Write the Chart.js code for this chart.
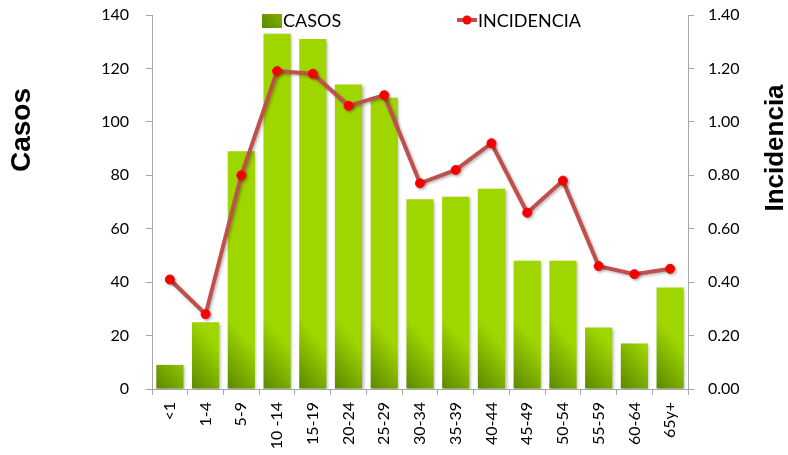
<!DOCTYPE html>
<html>
<head>
<meta charset="utf-8">
<script src="https://cdn.jsdelivr.net/npm/chart.js@4"></script>
<style>
  html, body { margin: 0; padding: 0; background: #fff; }
  #wrap { width: 788px; height: 455px; position: relative; }
</style>
</head>
<body>
<div id="wrap"><canvas id="casosChart"></canvas></div>
<script>
const ageGroups = ['<1', '1-4', '5-9', '10 -14', '15-19', '20-24', '25-29', '30-34', '35-39', '40-44', '45-49', '50-54', '55-59', '60-64', '65y+'];
const casos = [9, 25, 89, 133, 131, 114, 109, 71, 72, 75, 48, 48, 23, 17, 38];
const incidencia = [0.41, 0.28, 0.80, 1.19, 1.18, 1.06, 1.10, 0.77, 0.82, 0.92, 0.66, 0.78, 0.46, 0.43, 0.45];
const casosTicks = [0, 20, 40, 60, 80, 100, 120, 140];
const incidenciaTicks = [0, 0.2, 0.4, 0.6, 0.8, 1.0, 1.2, 1.4];

const tickFont = { family: 'Lato, "Open Sans", sans-serif', size: 16 };
const axisGrey = '#a6a6a6';
const lineColor = '#c0504d';
const dotColor = '#ff0000';

// diagonal green gradient, dark bottom-left to bright top-right
function greenGradient(ctx, x0, y0) {
    const d = 36;
    const g = ctx.createLinearGradient(x0, y0, x0 + d, y0 - d * 0.85);
    g.addColorStop(0, '#5a8800');
    g.addColorStop(1, '#a0d600');
    return g;
}

function barFill(context) {
    const chart = context.chart;
    if (!chart.chartArea || context.type !== 'data') return '#8cc000';
    const xs = chart.scales.x, ys = chart.scales.y;
    const cx = xs.getPixelForValue(context.dataIndex);
    const half = (xs.width / ageGroups.length) * 0.76 / 2;
    return greenGradient(chart.ctx, cx - half, ys.getPixelForValue(0));
}

// fixed sizes for the side axes, no extra label padding at the ends
function fixWidth(w) {
    return function (scale) {
        scale.width = w;
        scale.paddingTop = 0;
        scale.paddingBottom = 0;
    };
}

const extras = {
    id: 'extras',
    beforeDatasetDraw(chart) {
        const ctx = chart.ctx;
        ctx.save();
        ctx.shadowColor = 'rgba(0,0,0,0.28)';
        ctx.shadowBlur = 3;
        ctx.shadowOffsetX = 1.5;
        ctx.shadowOffsetY = 1.5;
    },
    afterDatasetDraw(chart) {
        chart.ctx.restore();
    },
    afterDraw(chart) {
        const ctx = chart.ctx;
        ctx.save();
        ctx.fillStyle = '#000';
        ctx.textAlign = 'center';
        ctx.textBaseline = 'middle';
        // axis titles
        ctx.font = 'bold 28px "Liberation Sans", Arial, sans-serif';
        ctx.save();
        ctx.translate(22, 130);
        ctx.rotate(-Math.PI / 2);
        ctx.fillText('Casos', 0, 0);
        ctx.restore();
        ctx.font = 'bold 26px "Liberation Sans", Arial, sans-serif';
        ctx.save();
        ctx.translate(776, 148);
        ctx.rotate(-Math.PI / 2);
        ctx.fillText('Incidencia', 0, 0);
        ctx.restore();

        // legend
        ctx.fillStyle = greenGradient(ctx, 262, 28);
        ctx.fillRect(262, 14, 20, 14);
        ctx.strokeStyle = lineColor;
        ctx.lineWidth = 4;
        ctx.beginPath();
        ctx.moveTo(457, 20);
        ctx.lineTo(477, 20);
        ctx.stroke();
        ctx.fillStyle = dotColor;
        ctx.beginPath();
        ctx.arc(467, 20, 4.5, 0, Math.PI * 2);
        ctx.fill();
        ctx.fillStyle = '#000';
        ctx.textAlign = 'left';
        ctx.font = '18px Lato, "Open Sans", sans-serif';
        ctx.fillText('CASOS', 283, 21);
        ctx.fillText('INCIDENCIA', 478, 21);
        ctx.restore();
    }
};

new Chart(document.getElementById('casosChart'), {
    data: {
        labels: ageGroups,
        datasets: [{
            type: 'line',
            label: 'INCIDENCIA',
            data: incidencia,
            yAxisID: 'y1',
            order: 0,
            borderColor: lineColor,
            borderWidth: 4,
            tension: 0,
            pointRadius: 4.5,
            pointBackgroundColor: dotColor,
            pointBorderColor: dotColor,
            pointBorderWidth: 1
        }, {
            type: 'bar',
            label: 'CASOS',
            data: casos,
            yAxisID: 'y',
            order: 1,
            backgroundColor: barFill,
            borderWidth: 0,
            categoryPercentage: 1,
            barPercentage: 0.76
        }]
    },
    options: {
        responsive: true,
        maintainAspectRatio: false,
        animation: false,
        layout: { padding: { top: 15, left: 0, right: 0, bottom: 0 } },
        scales: {
            x: {
                offset: true,
                afterFit(scale) {
                    scale.height = 66;
                    scale.paddingLeft = 0;
                    scale.paddingRight = 0;
                },
                ticks: {
                    color: '#000',
                    font: tickFont,
                    minRotation: 90,
                    maxRotation: 90,
                    autoSkip: false,
                    padding: 7
                },
                grid: { offset: true, drawOnChartArea: false, tickLength: 6, color: axisGrey },
                border: { color: axisGrey }
            },
            y: {
                position: 'left',
                min: casosTicks[0],
                max: casosTicks[casosTicks.length - 1],
                afterFit: fixWidth(152),
                afterBuildTicks(scale) { scale.ticks = casosTicks.map(v => ({ value: v })); },
                ticks: { color: '#000', font: tickFont, padding: 17 },
                grid: { drawOnChartArea: false, tickLength: 6, color: axisGrey },
                border: { color: axisGrey }
            },
            y1: {
                position: 'right',
                min: incidenciaTicks[0],
                max: incidenciaTicks[incidenciaTicks.length - 1],
                afterFit: fixWidth(100),
                afterBuildTicks(scale) { scale.ticks = incidenciaTicks.map(v => ({ value: v })); },
                ticks: {
                    color: '#000',
                    font: tickFont,
                    padding: 14,
                    callback: v => Number(v).toFixed(2)
                },
                grid: { drawOnChartArea: false, tickLength: 6, color: axisGrey },
                border: { color: axisGrey }
            }
        },
        plugins: {
            legend: { display: false },
            tooltip: { enabled: false }
        }
    },
    plugins: [extras]
});
</script>
</body>
</html>
